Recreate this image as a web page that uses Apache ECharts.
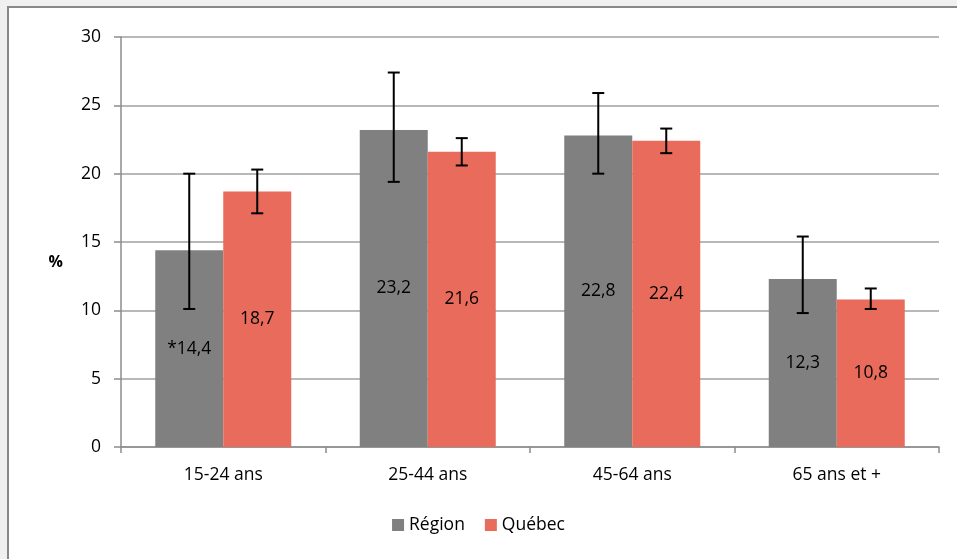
<!DOCTYPE html>
<html><head><meta charset="utf-8">
<script src="https://cdn.jsdelivr.net/npm/echarts@6/dist/echarts.min.js"></script>
<style>html,body{margin:0;padding:0;background:#f0f0f0;}#c{width:957px;height:559px;}</style>
</head><body><div id="c"></div>
<script>
const categories = ['15-24 ans', '25-44 ans', '45-64 ans', '65 ans et +'];
const seriesNames = ['Région', 'Québec'];
const regionValues = [14.4, 23.2, 22.8, 12.3];
const quebecValues = [18.7, 21.6, 22.4, 10.8];
const regionLabels = ['*14,4', '23,2', '22,8', '12,3'];
const quebecLabels = ['18,7', '21,6', '22,4', '10,8'];
const regionLow = [10.1, 19.4, 20.0, 9.8];
const regionHigh = [20.0, 27.4, 25.9, 15.4];
const quebecLow = [17.1, 20.6, 21.5, 10.1];
const quebecHigh = [20.3, 22.6, 23.3, 11.6];
const yTicks = [0, 5, 10, 15, 20, 25, 30];

const colors = ['#808080', '#E96B5B'];
const FONT = 'Open Sans';
const FS = 17.5;

function errData(low, high) {
  return categories.map((c, i) => [i, low[i], high[i]]);
}
function errSeries(low, high, idx) {
  return {
    type: 'custom',
    name: seriesNames[idx] + ' err',
    z: 10,
    silent: true,
    data: errData(low, high),
    encode: { x: 0, y: [1, 2] },
    renderItem: function (params, api) {
      const i = api.value(0);
      const lo = api.coord([i, api.value(1)]);
      const hi = api.coord([i, api.value(2)]);
      const bw = api.size([1, 0])[0];
      const barW = bw * 0.665 / 2;
      const x = lo[0] + (idx === 0 ? -barW / 2 : barW / 2);
      const cap = 6;
      const style = { stroke: '#000', lineWidth: 2 };
      return {
        type: 'group',
        children: [
          { type: 'line', shape: { x1: x, y1: hi[1], x2: x, y2: lo[1] }, style: style },
          { type: 'line', shape: { x1: x - cap, y1: hi[1], x2: x + cap, y2: hi[1] }, style: style },
          { type: 'line', shape: { x1: x - cap, y1: lo[1], x2: x + cap, y2: lo[1] }, style: style }
        ]
      };
    }
  };
}

const chart = echarts.init(document.getElementById('c'));
chart.setOption({
  animation: false,
  textStyle: { fontFamily: FONT },
  graphic: [{
    type: 'rect', z: -100, silent: true,
    shape: { x: 8, y: 7, width: 960, height: 570 },
    style: { fill: '#ffffff', stroke: '#888888', lineWidth: 2 }
  }],
  grid: { left: 121, right: 18, top: 37, bottom: 112 },
  legend: {
    bottom: 20, left: 'center',
    itemWidth: 12, itemHeight: 12, itemGap: 20,
    icon: 'rect',
    data: seriesNames,
    textStyle: { fontFamily: FONT, fontSize: FS, color: '#000' }
  },
  xAxis: {
    type: 'category',
    data: categories,
    axisLine: { lineStyle: { color: '#8c8c8c', width: 1.5 } },
    axisTick: { show: true, length: 6, lineStyle: { color: '#8c8c8c', width: 1.5 } },
    axisLabel: { color: '#000', fontSize: FS, margin: 19, fontFamily: FONT }
  },
  yAxis: {
    type: 'value', min: 0, max: 30, interval: 5,
    name: '%', nameLocation: 'middle', nameRotate: 0, nameGap: 58,
    nameTextStyle: { fontWeight: 'bold', fontSize: 16, color: '#000', fontFamily: FONT,
      align: 'right', verticalAlign: 'top', padding: [12, 0, 0, 0] },
    axisLine: { show: true, lineStyle: { color: '#8c8c8c', width: 1.5 } },
    axisTick: { show: true, length: 7, lineStyle: { color: '#8c8c8c', width: 1.5 } },
    splitLine: { lineStyle: { color: '#a0a0a0', width: 1.5 } },
    axisLabel: {
      color: '#000', fontSize: FS, margin: 20, fontFamily: FONT,
      formatter: v => yTicks.includes(v) ? String(v) : ''
    }
  },
  series: [
    {
      name: seriesNames[0], type: 'bar', data: regionValues,
      barGap: '0%', barCategoryGap: '33.5%',
      itemStyle: { color: colors[0] },
      label: { show: true, position: 'inside', color: '#000', fontSize: FS, fontFamily: FONT,
        formatter: p => regionLabels[p.dataIndex] }
    },
    {
      name: seriesNames[1], type: 'bar', data: quebecValues,
      barGap: '0%', barCategoryGap: '33.5%',
      itemStyle: { color: colors[1] },
      label: { show: true, position: 'inside', color: '#000', fontSize: FS, fontFamily: FONT,
        formatter: p => quebecLabels[p.dataIndex] }
    },
    errSeries(regionLow, regionHigh, 0),
    errSeries(quebecLow, quebecHigh, 1)
  ]
});
</script></body></html>
